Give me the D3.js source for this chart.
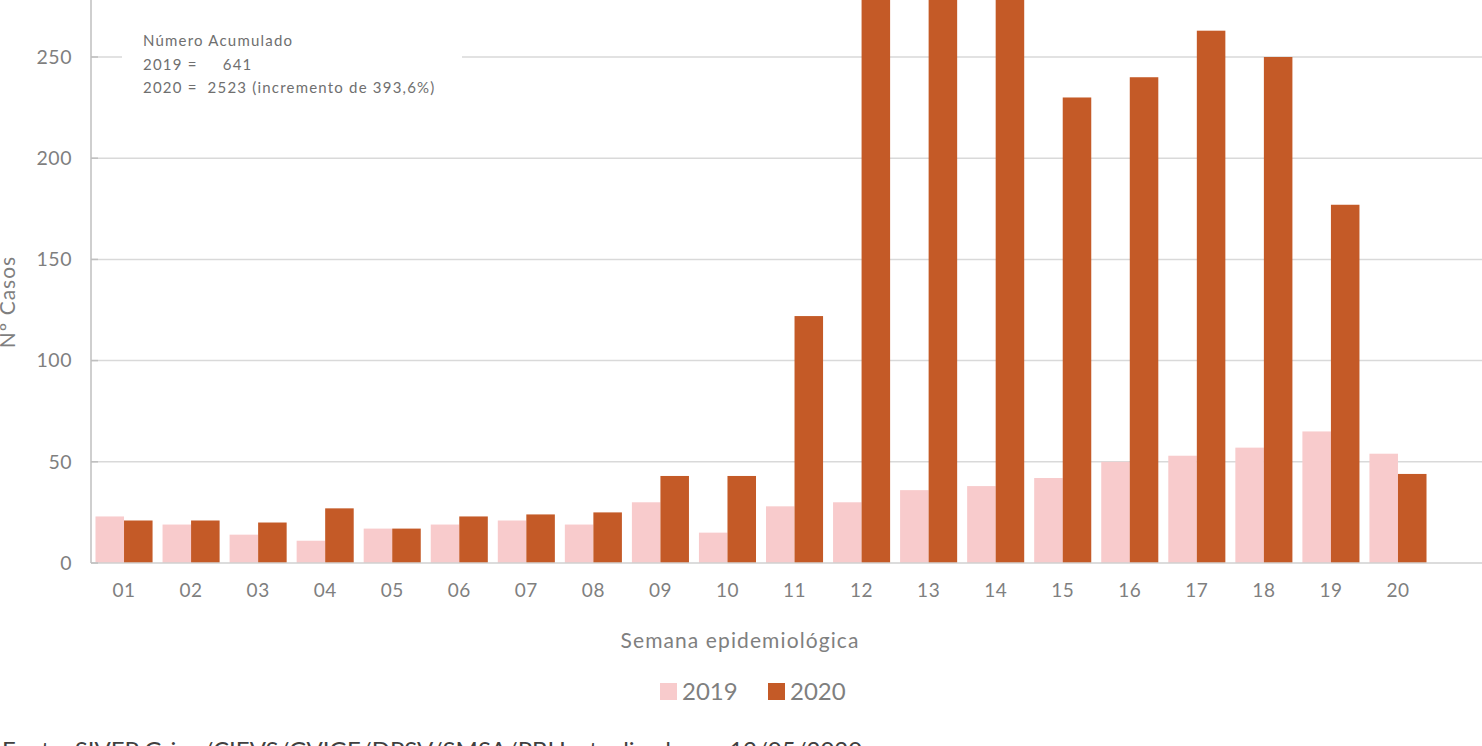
<!DOCTYPE html>
<html><head><meta charset="utf-8">
<script src="https://cdn.jsdelivr.net/npm/d3@7"></script>
<style>html,body{margin:0;padding:0;background:#fff;overflow:hidden}svg{display:block;font-family:Lato,"Open Sans",sans-serif}</style>
</head><body>
<svg id="c" width="1482" height="746"></svg>
<script>
const weeks = ["01","02","03","04","05","06","07","08","09","10","11","12","13","14","15","16","17","18","19","20"];
const cases2019 = [23,19,14,11,17,19,21,19,30,15,28,30,36,38,42,50,53,57,65,54];
const cases2020 = [21,21,20,27,17,23,24,25,43,43,122,298,322,313,230,240,263,250,177,44];
const yTicks = [0,50,100,150,200,250];
const seriesNames = ["2019","2020"];
const colors = ["#F8CBCC","#C45A27"];
const annotation = ["Número Acumulado","2019 =     641","2020 =  2523 (incremento de 393,6%)"];

const svg = d3.select("#c");
const W = 1482;
const x = d3.scaleBand().domain(weeks).range([90.5, 1431.5]).paddingInner(0).paddingOuter(0);
const x1 = d3.scaleBand().domain(seriesNames).range([0, x.bandwidth()]).paddingInner(0).paddingOuter(0.175);
const y = d3.scaleLinear().domain([0, 250]).range([563, 57]);

// gridlines
svg.append("g").selectAll("line").data(yTicks.filter(d=>d>0)).join("line")
  .attr("x1", 91).attr("x2", W).attr("y1", d=>y(d)).attr("y2", d=>y(d))
  .attr("stroke", "#d9d9d9").attr("stroke-width", 1.5);

// bars
const g = svg.append("g");
const data = weeks.map((w,i)=>({w, vals:[cases2019[i], cases2020[i]]}));
g.selectAll("g").data(data).join("g")
  .attr("transform", d=>`translate(${x(d.w)},0)`)
  .selectAll("rect").data(d=>d.vals.map((v,j)=>({v, s:seriesNames[j], j})))
  .join("rect")
  .attr("x", d=>x1(d.s)).attr("width", x1.bandwidth())
  .attr("y", d=>y(d.v)).attr("height", d=>y(0)-y(d.v))
  .attr("fill", d=>colors[d.j]);

// x axis line
svg.append("line").attr("x1",91).attr("x2",W).attr("y1",y(0)).attr("y2",y(0))
  .attr("stroke","#d0d0d0").attr("stroke-width",1.5);
// y axis line
svg.append("line").attr("x1",91).attr("x2",91).attr("y1",0).attr("y2",y(0))
  .attr("stroke","#bfbfbf").attr("stroke-width",1.5);

// y axis ticks & labels via d3 axis
const yAxis = d3.axisLeft(y).tickValues(yTicks).tickSize(0).tickPadding(19);
const ya = svg.append("g").attr("transform","translate(91,0)").call(yAxis);
ya.select(".domain").remove();
ya.selectAll("text").attr("font-size",19.5).attr("fill","#7f7f7f").attr("font-family","Lato").attr("letter-spacing",0.5);
svg.append("g").selectAll("line").data(yTicks).join("line")
  .attr("x1",91).attr("x2",98).attr("y1",d=>y(d)).attr("y2",d=>y(d))
  .attr("stroke","#bfbfbf").attr("stroke-width",1.5);

// x axis labels
const xAxis = d3.axisBottom(x).tickSize(0).tickPadding(21);
const xa = svg.append("g").attr("transform",`translate(0,${y(0)})`).call(xAxis);
xa.select(".domain").remove();
xa.selectAll("text").attr("font-size",19).attr("fill","#7f7f7f").attr("font-family","Lato").attr("letter-spacing",0.5);

// axis titles
svg.append("text").attr("x",740).attr("y",648).attr("text-anchor","middle")
  .attr("font-size",21).attr("letter-spacing",1.1).attr("fill","#7f7f7f").text("Semana epidemiológica");
svg.append("text").attr("transform","translate(15,302) rotate(-90)").attr("text-anchor","middle")
  .attr("font-size",21).attr("letter-spacing",1).attr("fill","#7f7f7f").text("Nº Casos");

// annotation box
svg.append("rect").attr("x",122).attr("y",22).attr("width",340).attr("height",82).attr("fill","#fff");
svg.append("g").selectAll("text").data(annotation).join("text")
  .attr("x",143).attr("y",(d,i)=>46+i*23.5)
  .attr("font-size",15).attr("letter-spacing",1.2).attr("fill","#6f6f6f").attr("xml:space","preserve")
  .style("white-space","pre").text(d=>d);

// legend
const leg = svg.append("g");
const legX = [660, 768];
seriesNames.forEach((s,i)=>{
  leg.append("rect").attr("x",legX[i]).attr("y",683).attr("width",17).attr("height",17).attr("fill",colors[i]);
  leg.append("text").attr("x",legX[i]+22).attr("y",700).attr("font-size",24).attr("fill","#7f7f7f").text(s);
});

// footer (cropped)
svg.append("text").attr("x",2).attr("y",759).attr("font-size",24).attr("fill","#404040")
  .text("Fonte: SIVEP Gripe/CIEVS/GVIGE/DPSV/SMSA/PBH, atualizado em 12/05/2020");
</script>
</body></html>
